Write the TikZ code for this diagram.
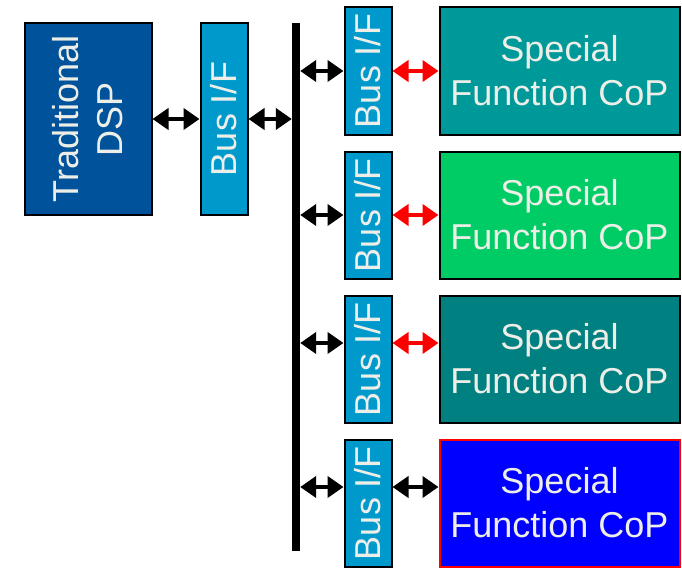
\documentclass[tikz,border=0pt]{standalone}
\usepackage{fontspec}
\setmainfont{Liberation Sans}
\usetikzlibrary{arrows.meta}
\definecolor{dspblue}{RGB}{0,82,155}
\definecolor{bifblue}{RGB}{0,153,204}
\definecolor{sfteal}{RGB}{0,153,153}
\definecolor{sfgreen}{RGB}{0,204,102}
\definecolor{sfdark}{RGB}{0,128,128}
\definecolor{sfblue}{RGB}{0,0,255}
\definecolor{txt}{RGB}{238,238,232}
\tikzset{
  blk/.style={draw=black, line width=2pt, inner sep=0pt, text=txt,
    font=\fontsize{36}{44}\selectfont, align=center},
  vtext/.style={text=txt, font=\fontsize{36}{44}\selectfont, align=center,
    rotate=90, inner sep=0pt},
  dbl/.style={line width=4.5pt, {Triangle[length=16pt,width=21pt]}-{Triangle[length=16pt,width=21pt]}},
}
\begin{document}
\begin{tikzpicture}[x=1pt,y=-1pt]
\useasboundingbox (0,0) rectangle (682,567);
% left part
\node[blk, fill=dspblue, minimum width=127pt, minimum height=191pt] (dsp) at (88,119) {};
\node[vtext] (dsptext) at (88,119) {Traditional\\DSP};
\node[blk, fill=bifblue, minimum width=47pt, minimum height=191pt] (bif0) at (224,119) {};
\node[vtext] (bif0t) at (224,119) {Bus I/F};
% bus line
\node[fill=black, inner sep=0pt, minimum width=8pt, minimum height=528pt] (bus) at (296,287) {};
\draw[dbl] (dsp.east) -- (bif0.west);
\draw[dbl] (bif0.east) -- (bif0.east -| bus.west);
% rows
\foreach \i/\yc/\ya/\col/\bd/\ac in {1/71/71/sfteal/black/red, 2/215/215/sfgreen/black/red, 3/359/343/sfdark/black/red, 4/503/487/sfblue/red/black}{
  \node[blk, fill=bifblue, minimum width=47pt, minimum height=127pt] (bif\i) at (368,\yc) {};
  \node[vtext] (bif\i t) at (368,\yc) {Bus I/F};
  \node[blk, draw=\bd, fill=\col, minimum width=240pt, minimum height=127pt] (sf\i) at (559.5,\yc) {Special\\Function CoP};
  \coordinate (a\i) at (320,\ya);
  \draw[dbl] (a\i -| bus.east) -- (a\i -| bif\i.west);
  \draw[dbl, draw=\ac, fill=\ac] (a\i -| bif\i.east) -- (a\i -| sf\i.west);
}
\end{tikzpicture}
\end{document}
